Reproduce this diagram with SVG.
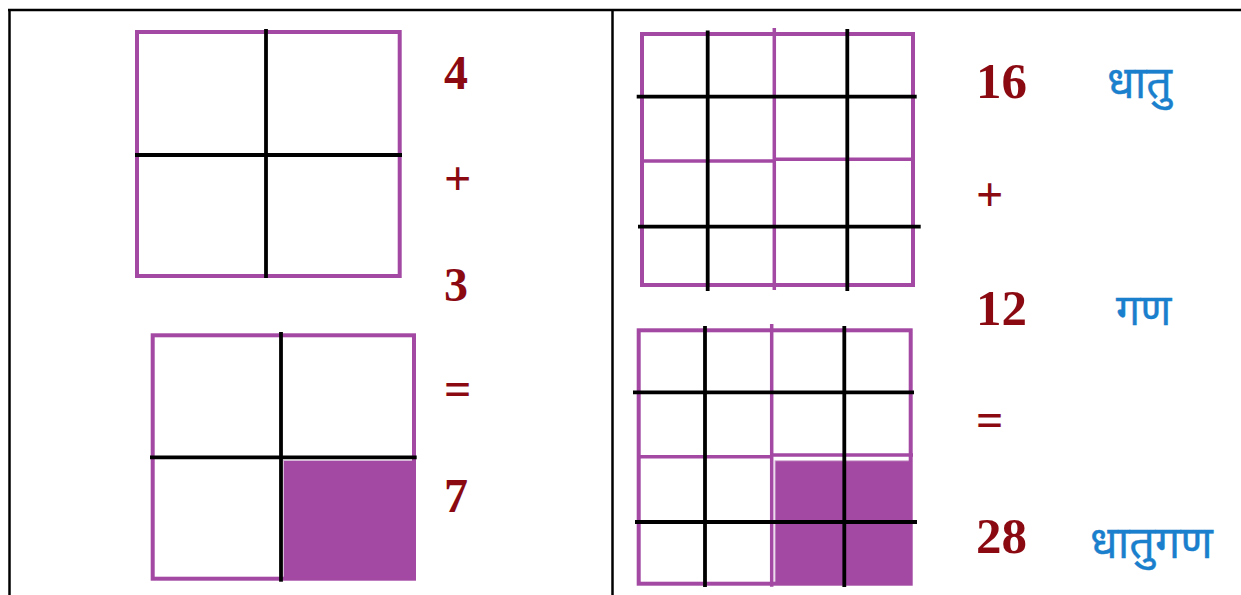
<svg xmlns="http://www.w3.org/2000/svg" width="1241" height="595" viewBox="0 0 1241 595">
<style>
.frame{stroke:#000;stroke-width:2.5;fill:none}
.box{fill:none;stroke:#A349A4;stroke-width:4}
.pl{stroke:#A349A4;stroke-width:3.5;fill:none}
.bl{stroke:#000;stroke-width:3.8;fill:none}
.fill{fill:#A349A4;stroke:#d8b8d8;stroke-width:1}
.num{font-family:"Liberation Serif","Times New Roman",serif;font-weight:bold;fill:#8B0A12}
.op{font-family:"Liberation Serif","Times New Roman",serif;font-weight:bold;fill:#8B0A12}
.hi{font-family:"Noto Sans","Noto Sans Devanagari",sans-serif;fill:#1A7FCC;stroke:#1A7FCC;stroke-width:0.4}
</style>
<rect width="1241" height="595" fill="#fff"/>
<g id="frame">
<line class="frame" x1="8" y1="10" x2="1241" y2="10"/>
<line class="frame" x1="9.5" y1="9" x2="9.5" y2="595"/>
<line class="frame" x1="612.5" y1="10" x2="612.5" y2="595"/>
</g>
<g id="grid1">
<rect class="box" x="137" y="32" width="262.7" height="244"/>
<line class="bl" x1="266" y1="29" x2="266" y2="278"/>
<line class="bl" x1="135" y1="155" x2="402" y2="155"/>
</g>
<g id="grid2">
<rect class="fill" x="283.5" y="460.5" width="129" height="117"/>
<rect class="box" x="152.7" y="335.3" width="261.3" height="243.4"/>
<line class="bl" x1="281" y1="332" x2="281" y2="581.7"/>
<line class="bl" x1="150" y1="457.3" x2="416.7" y2="457.3"/>
</g>
<g id="grid3">
<rect class="box" x="642" y="34" width="271" height="251"/>
<line class="pl" x1="774.3" y1="28" x2="774.3" y2="290"/>
<line class="pl" x1="640" y1="161" x2="774" y2="161"/>
<line class="pl" x1="774" y1="159.3" x2="915" y2="159.3"/>
<line class="bl" x1="707.7" y1="30.5" x2="707.7" y2="291"/>
<line class="bl" x1="847.3" y1="29" x2="847.3" y2="291"/>
<line class="bl" x1="636.7" y1="96.7" x2="916.7" y2="96.7"/>
<line class="bl" x1="638" y1="226.7" x2="920.7" y2="226.7"/>
</g>
<g id="grid4">
<rect class="fill" x="775" y="460.7" width="135" height="122"/>
<rect class="box" x="638.7" y="330.3" width="272" height="253.4"/>
<line class="pl" x1="771.7" y1="324" x2="771.7" y2="586.7"/>
<line class="pl" x1="637" y1="456.7" x2="771" y2="456.7"/>
<line class="pl" x1="771" y1="455" x2="913" y2="455"/>
<line class="bl" x1="705" y1="326" x2="705" y2="587"/>
<line class="bl" x1="844.3" y1="326" x2="844.3" y2="587"/>
<line class="bl" x1="633" y1="392.3" x2="914" y2="392.3"/>
<line class="bl" x1="635" y1="522" x2="917" y2="522"/>
</g>
<g id="left-labels">
<text class="num" x="444" y="89" font-size="48">4</text>
<text class="op" x="444" y="195" font-size="48">+</text>
<text class="num" x="444" y="301" font-size="48">3</text>
<text class="op" x="444" y="405" font-size="48">=</text>
<text class="num" x="444" y="512" font-size="48">7</text>
</g>
<g id="right-labels">
<text class="num" x="976" y="98" font-size="51">16</text>
<text class="op" x="976" y="211" font-size="48">+</text>
<text class="num" x="976" y="325" font-size="51">12</text>
<text class="op" x="976" y="436" font-size="48">=</text>
<text class="num" x="976" y="553" font-size="51">28</text>
<text class="hi" x="1107" y="98" font-size="45">धातु</text>
<text class="hi" x="1116" y="325" font-size="43">गण</text>
<text class="hi" x="1090" y="558" font-size="45">धातुगण</text>
</g>
</svg>
